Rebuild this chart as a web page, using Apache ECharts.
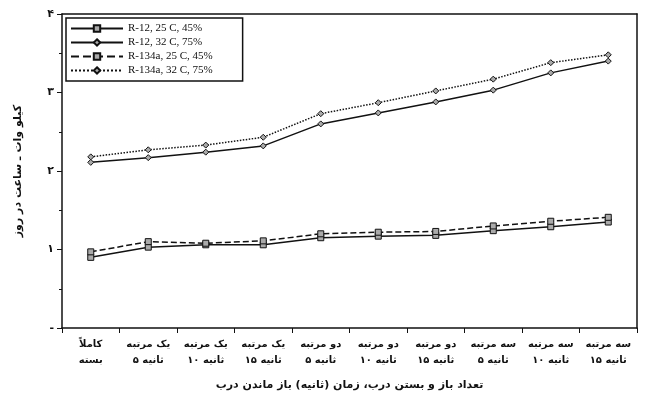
<!DOCTYPE html>
<html><head><meta charset="utf-8">
<script src="https://cdn.jsdelivr.net/npm/echarts@6/dist/echarts.min.js"></script>
<style>html,body{margin:0;background:#fff}#c{width:663px;height:403px}</style>
</head><body><div id="c"></div>
<script>
const categories = [
  "کاملاً\nبسته", "یک مرتبه\n۵ ثانیه", "یک مرتبه\n۱۰ ثانیه", "یک مرتبه\n۱۵ ثانیه",
  "دو مرتبه\n۵ ثانیه", "دو مرتبه\n۱۰ ثانیه", "دو مرتبه\n۱۵ ثانیه",
  "سه مرتبه\n۵ ثانیه", "سه مرتبه\n۱۰ ثانیه", "سه مرتبه\n۱۵ ثانیه"
];
const r12_25 = [0.90, 1.03, 1.06, 1.06, 1.15, 1.17, 1.18, 1.24, 1.29, 1.35];
const r12_32 = [2.11, 2.17, 2.24, 2.32, 2.60, 2.74, 2.88, 3.03, 3.25, 3.40];
const r134_25 = [0.97, 1.10, 1.08, 1.11, 1.20, 1.22, 1.23, 1.30, 1.36, 1.41];
const r134_32 = [2.18, 2.27, 2.33, 2.43, 2.73, 2.87, 3.02, 3.17, 3.38, 3.48];
const yLabels = { 0: "-", 1: "۱", 2: "۲", 3: "۳", 4: "۴" };

const line = (name, data, symbol, type) => ({
  name, type: "line", data, symbol, symbolSize: 6,
  lineStyle: { color: "#111", width: 1.5, type },
  itemStyle: { color: "#aaa", borderColor: "#111", borderWidth: 1 },
});
const frame = { color: "#111", width: 1.5 };

const chart = echarts.init(document.getElementById("c"));
chart.setOption({
  animation: false,
  textStyle: { fontFamily: "DejaVu Sans" },
  grid: { left: 62, right: 26, top: 14, bottom: 75 },
  legend: {
    left: 66, top: 18, orient: "vertical", itemGap: 3, itemWidth: 52, itemHeight: 8,
    borderColor: "#111", borderWidth: 1.5, padding: [5, 30, 5, 4],
    textStyle: { fontFamily: "Liberation Serif", fontSize: 11, color: "#111" },
  },
  xAxis: [
    {
      type: "category", data: categories, boundaryGap: true,
      axisLine: { lineStyle: frame },
      axisTick: { show: true, length: 5, lineStyle: { color: "#111" } },
      axisLabel: { color: "#111", fontSize: 10, fontWeight: "bold", lineHeight: 16, interval: 0 },
      name: "تعداد باز و بستن درب، زمان (ثانیه) باز ماندن درب",
      nameLocation: "middle", nameGap: 52,
      nameTextStyle: { fontSize: 11, fontWeight: "bold", color: "#111" },
    },
    {
      type: "category", position: "top", data: categories,
      axisLine: { show: true, onZero: false, lineStyle: frame }, axisTick: { show: false }, axisLabel: { show: false },
    },
  ],
  yAxis: [
    {
      type: "value", min: 0, max: 4, interval: 1,
      axisLine: { show: true, lineStyle: frame },
      axisTick: { show: true, lineStyle: { color: "#111" } },
      minorTick: { show: true, splitNumber: 2, length: 3, lineStyle: { color: "#111" } },
      splitLine: { show: false },
      axisLabel: { color: "#111", fontSize: 11, fontWeight: "bold", formatter: (v) => yLabels[v] },
      name: "کیلو وات ـ ساعت در روز", nameLocation: "middle", nameGap: 38,
      nameTextStyle: { fontSize: 11, fontWeight: "bold", color: "#111" },
    },
    {
      type: "value", position: "right", min: 0, max: 4,
      axisLine: { show: true, onZero: false, lineStyle: frame }, axisTick: { show: false },
      axisLabel: { show: false }, splitLine: { show: false },
    },
  ],
  series: [
    line("R-12, 25 C, 45%", r12_25, "rect", "solid"),
    line("R-12, 32 C, 75%", r12_32, "diamond", "solid"),
    line("R-134a, 25 C, 45%", r134_25, "rect", "dashed"),
    line("R-134a, 32 C, 75%", r134_32, "diamond", "dotted"),
  ],
});
</script></body></html>
